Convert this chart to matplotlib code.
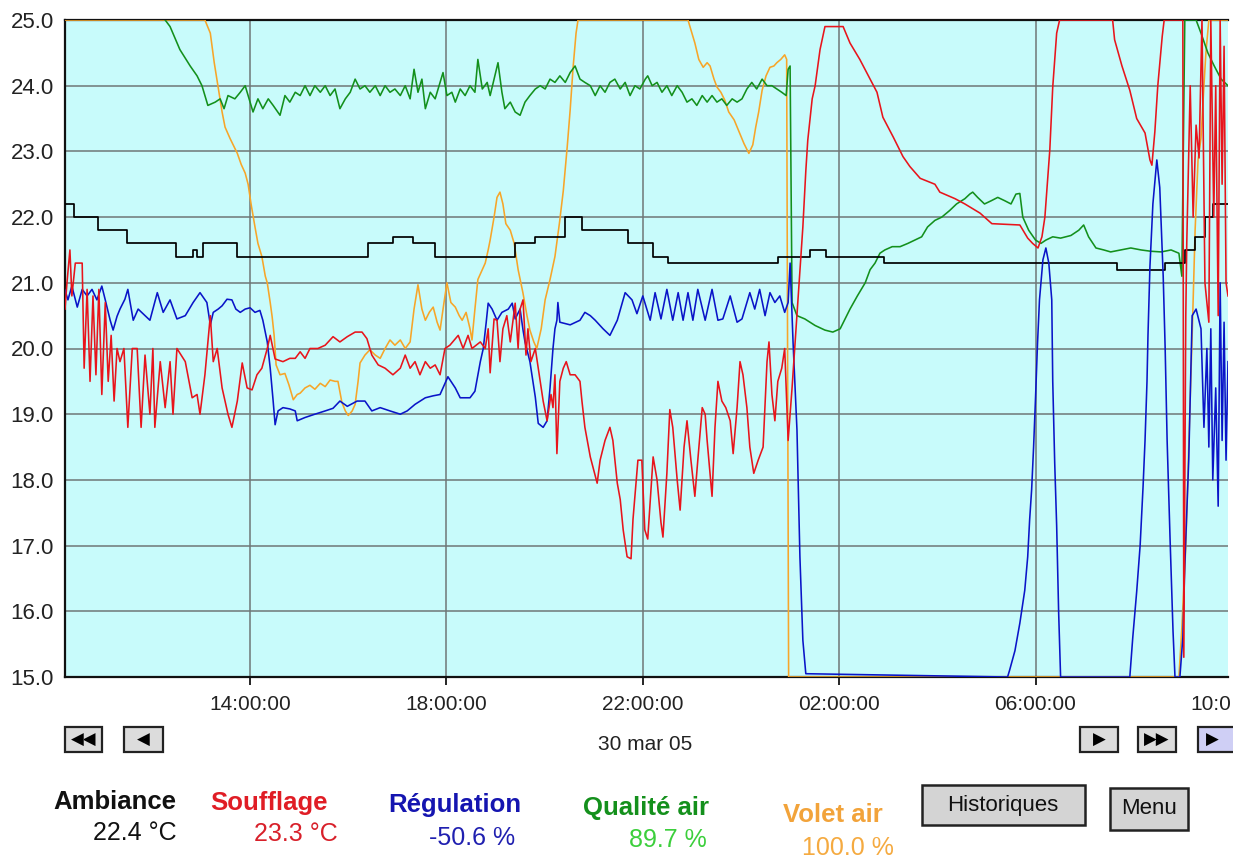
import matplotlib
matplotlib.use("Agg")
import matplotlib.pyplot as plt
from matplotlib.patches import Rectangle
from matplotlib.ticker import FixedLocator, FixedFormatter

plt.rcParams['font.family'] = ['Liberation Sans', 'DejaVu Sans']

# Time is in hours from 30 mar 05 00:00 (values above 24 are the next morning).
# Each series is a list of (hour, value).

ambiance = [
    (10.23, 22.2), (10.42, 22.0), (10.90, 21.8), (11.49, 21.6), (12.49, 21.4),
    (12.84, 21.5), (12.92, 21.4), (13.04, 21.6), (13.74, 21.4), (16.40, 21.6),
    (16.91, 21.7), (17.32, 21.6), (17.77, 21.4), (19.40, 21.6), (19.81, 21.7),
    (20.42, 22.0), (20.76, 21.8), (21.70, 21.6), (22.21, 21.4), (22.51, 21.3),
    (24.75, 21.4), (25.41, 21.5), (25.73, 21.4), (26.91, 21.3), (31.66, 21.2),
    (32.64, 21.3), (33.04, 21.5), (33.25, 21.7), (33.45, 22.0), (33.61, 22.2),
    (33.92, 22.2),
]

soufflage = [
    (10.23, 20.6), (10.27, 21.0), (10.33, 21.5), (10.37, 20.8), (10.44, 21.3),
    (10.58, 21.3), (10.62, 19.7), (10.68, 20.9), (10.74, 19.5), (10.80, 20.8),
    (10.86, 19.6), (10.92, 20.9), (10.98, 19.3), (11.05, 20.7), (11.11, 19.5),
    (11.17, 20.2), (11.23, 19.2), (11.29, 20.0), (11.35, 19.8), (11.43, 20.0),
    (11.51, 18.8), (11.60, 20.0), (11.70, 20.0), (11.78, 18.8), (11.86, 19.9),
    (11.96, 19.0), (12.02, 20.0), (12.06, 18.8), (12.17, 19.8), (12.27, 19.1),
    (12.37, 19.8), (12.43, 19.0), (12.51, 20.0), (12.68, 19.8), (12.82, 19.25),
    (12.92, 19.3), (12.98, 19.0), (13.08, 19.6), (13.19, 20.5), (13.25, 19.8),
    (13.33, 20.0), (13.43, 19.4), (13.55, 19.0), (13.63, 18.8), (13.74, 19.2),
    (13.84, 19.78), (13.94, 19.4), (14.04, 19.37), (14.14, 19.6), (14.24, 19.7),
    (14.35, 20.0), (14.41, 20.2), (14.51, 19.84), (14.67, 19.8), (14.81, 19.85),
    (14.92, 19.85), (15.02, 19.95), (15.12, 19.85), (15.22, 20.0), (15.38, 20.0),
    (15.53, 20.05), (15.69, 20.18), (15.83, 20.1), (15.98, 20.18), (16.14, 20.25),
    (16.28, 20.25), (16.38, 20.15), (16.48, 19.9), (16.61, 19.75), (16.75, 19.7),
    (16.91, 19.6), (17.06, 19.7), (17.16, 19.9), (17.26, 19.7), (17.36, 19.8),
    (17.46, 19.6), (17.57, 19.8), (17.67, 19.7), (17.77, 19.75), (17.87, 19.6),
    (17.97, 20.0), (18.07, 20.05), (18.24, 20.2), (18.34, 20.0), (18.44, 20.2),
    (18.52, 20.0), (18.69, 20.1), (18.79, 20.0), (18.85, 20.3), (18.89, 19.63),
    (18.97, 20.45), (19.03, 20.43), (19.09, 19.8), (19.15, 20.3), (19.23, 20.5),
    (19.30, 20.1), (19.40, 20.69), (19.46, 20.0), (19.50, 20.6), (19.56, 20.74),
    (19.62, 19.9), (19.66, 20.3), (19.72, 19.8), (19.81, 20.0), (19.89, 19.6),
    (19.97, 19.2), (20.05, 18.9), (20.13, 19.3), (20.17, 19.1), (20.21, 19.6),
    (20.25, 18.4), (20.31, 19.5), (20.38, 19.7), (20.44, 19.8), (20.52, 19.6),
    (20.62, 19.6), (20.72, 19.5), (20.76, 19.2), (20.82, 18.8), (20.93, 18.35),
    (21.07, 17.95), (21.13, 18.3), (21.23, 18.6), (21.33, 18.8), (21.39, 18.6),
    (21.48, 17.95), (21.54, 17.7), (21.60, 17.24), (21.68, 16.83), (21.76, 16.8),
    (21.80, 17.4), (21.90, 18.3), (21.98, 18.3), (22.04, 17.24), (22.10, 17.1),
    (22.21, 18.35), (22.29, 18.0), (22.37, 17.35), (22.41, 17.13), (22.49, 18.1),
    (22.55, 19.07), (22.61, 18.8), (22.70, 18.0), (22.76, 17.54), (22.84, 18.5),
    (22.90, 18.9), (22.98, 18.3), (23.06, 17.75), (23.12, 18.3), (23.21, 19.1),
    (23.27, 19.0), (23.31, 18.6), (23.41, 17.75), (23.47, 18.8), (23.53, 19.5),
    (23.61, 19.2), (23.69, 19.1), (23.78, 18.9), (23.84, 18.4), (23.92, 19.1),
    (23.98, 19.8), (24.04, 19.6), (24.12, 19.1), (24.18, 18.5), (24.26, 18.1),
    (24.35, 18.3), (24.45, 18.5), (24.53, 19.8), (24.57, 20.1), (24.63, 19.3),
    (24.69, 18.9), (24.75, 19.5), (24.83, 19.7), (24.89, 20.0), (24.96, 18.6),
    (25.04, 19.4), (25.12, 20.3), (25.20, 21.2), (25.26, 21.85), (25.32, 22.7),
    (25.36, 23.17), (25.45, 23.8), (25.51, 24.0), (25.61, 24.55), (25.71, 24.9),
    (26.08, 24.9), (26.22, 24.65), (26.42, 24.4), (26.63, 24.1), (26.77, 23.9),
    (26.89, 23.52), (27.10, 23.22), (27.30, 22.92), (27.44, 22.77), (27.65, 22.59),
    (27.95, 22.5), (28.05, 22.38), (28.36, 22.28), (28.56, 22.2), (28.87, 22.06),
    (29.11, 21.9), (29.68, 21.88), (29.84, 21.68), (29.94, 21.6), (30.05, 21.53),
    (30.13, 21.7), (30.19, 22.0), (30.29, 23.02), (30.35, 23.98), (30.43, 24.8),
    (30.49, 25.0), (31.57, 25.0), (31.61, 24.7), (31.76, 24.3), (31.92, 23.93),
    (32.06, 23.5), (32.23, 23.28), (32.33, 22.87), (32.37, 22.79), (32.43, 23.3),
    (32.49, 24.0), (32.58, 24.75), (32.62, 25.0), (33.00, 25.0), (33.02, 15.3),
    (33.06, 20.5), (33.08, 21.6), (33.15, 24.0), (33.21, 22.0), (33.27, 23.4),
    (33.33, 22.9), (33.39, 25.0), (33.45, 21.0), (33.53, 20.4), (33.57, 25.0),
    (33.63, 22.0), (33.67, 24.0), (33.72, 20.5), (33.76, 25.0), (33.80, 22.5),
    (33.84, 24.6), (33.88, 21.0), (33.92, 20.8),
]

regulation = [
    (10.23, 20.89), (10.29, 20.74), (10.37, 20.95), (10.48, 20.63), (10.58, 20.9),
    (10.68, 20.8), (10.78, 20.9), (10.88, 20.74), (10.98, 20.95), (11.05, 20.74),
    (11.15, 20.43), (11.21, 20.28), (11.29, 20.49), (11.35, 20.6), (11.45, 20.75),
    (11.51, 20.9), (11.62, 20.43), (11.72, 20.6), (11.82, 20.53), (11.96, 20.43),
    (12.11, 20.85), (12.23, 20.55), (12.37, 20.74), (12.51, 20.45), (12.68, 20.5),
    (12.84, 20.7), (12.98, 20.85), (13.12, 20.7), (13.19, 20.36), (13.25, 20.55),
    (13.35, 20.6), (13.43, 20.65), (13.53, 20.75), (13.63, 20.74), (13.71, 20.6),
    (13.80, 20.55), (13.90, 20.6), (14.00, 20.62), (14.10, 20.55), (14.20, 20.58),
    (14.26, 20.43), (14.35, 20.1), (14.41, 19.7), (14.47, 19.2), (14.51, 18.84),
    (14.57, 19.05), (14.67, 19.1), (14.81, 19.08), (14.92, 19.05), (14.96, 18.9),
    (15.12, 18.95), (15.32, 19.0), (15.53, 19.05), (15.69, 19.09), (15.83, 19.2),
    (15.98, 19.12), (16.18, 19.2), (16.34, 19.2), (16.48, 19.05), (16.65, 19.1),
    (16.85, 19.05), (17.06, 19.0), (17.20, 19.05), (17.36, 19.15), (17.57, 19.25),
    (17.73, 19.28), (17.87, 19.3), (17.97, 19.47), (18.03, 19.57), (18.18, 19.4),
    (18.28, 19.25), (18.48, 19.25), (18.58, 19.35), (18.69, 19.8), (18.75, 20.0),
    (18.81, 20.4), (18.85, 20.69), (18.93, 20.6), (19.03, 20.43), (19.13, 20.55),
    (19.26, 20.6), (19.34, 20.69), (19.40, 20.45), (19.50, 20.6), (19.56, 20.28),
    (19.60, 20.1), (19.70, 19.8), (19.81, 19.26), (19.87, 18.86), (19.97, 18.8),
    (20.05, 18.9), (20.11, 19.4), (20.17, 20.0), (20.21, 20.3), (20.25, 20.43),
    (20.27, 20.7), (20.31, 20.4), (20.52, 20.36), (20.72, 20.43), (20.82, 20.55),
    (20.93, 20.5), (21.03, 20.43), (21.19, 20.3), (21.33, 20.2), (21.48, 20.43),
    (21.64, 20.85), (21.78, 20.74), (21.88, 20.53), (22.00, 20.8), (22.15, 20.43),
    (22.25, 20.85), (22.37, 20.45), (22.49, 20.9), (22.61, 20.43), (22.72, 20.85),
    (22.82, 20.43), (22.92, 20.85), (23.02, 20.43), (23.12, 20.9), (23.27, 20.43),
    (23.41, 20.9), (23.53, 20.43), (23.63, 20.45), (23.78, 20.8), (23.92, 20.4),
    (24.02, 20.45), (24.18, 20.85), (24.28, 20.6), (24.38, 20.9), (24.49, 20.5),
    (24.59, 20.85), (24.69, 20.7), (24.79, 20.8), (24.89, 20.55), (24.96, 20.7),
    (25.00, 21.3), (25.06, 20.1), (25.14, 18.76), (25.20, 16.83), (25.26, 15.56),
    (25.32, 15.05), (29.43, 15.0), (29.47, 15.1), (29.58, 15.4), (29.68, 15.82),
    (29.78, 16.32), (29.84, 16.83), (29.88, 17.4), (29.92, 17.85), (29.96, 18.5),
    (30.00, 19.26), (30.04, 20.08), (30.08, 20.74), (30.15, 21.35), (30.21, 21.53),
    (30.27, 21.3), (30.33, 20.74), (30.35, 19.5), (30.39, 18.26), (30.43, 17.3),
    (30.47, 15.99), (30.51, 15.0), (31.92, 15.0), (31.98, 15.6), (32.06, 16.3),
    (32.13, 17.0), (32.19, 17.9), (32.23, 18.6), (32.27, 19.5), (32.29, 20.2),
    (32.33, 21.25), (32.39, 22.2), (32.47, 22.87), (32.53, 22.45), (32.60, 21.1),
    (32.64, 20.0), (32.68, 18.6), (32.74, 17.1), (32.80, 15.7), (32.84, 15.0),
    (32.94, 15.0), (33.00, 15.6), (33.04, 16.7), (33.12, 18.3), (33.19, 20.5),
    (33.27, 20.6), (33.37, 20.3), (33.43, 18.8), (33.49, 20.0), (33.53, 18.5),
    (33.57, 20.3), (33.61, 18.0), (33.67, 19.4), (33.72, 17.6), (33.76, 21.0),
    (33.80, 18.6), (33.84, 20.4), (33.88, 18.3), (33.92, 19.8),
]

qualite_air = [
    (12.27, 25.0), (12.37, 24.9), (12.57, 24.55), (12.78, 24.3), (12.92, 24.15),
    (13.02, 24.0), (13.14, 23.7), (13.29, 23.75), (13.39, 23.8), (13.47, 23.65),
    (13.55, 23.85), (13.69, 23.8), (13.80, 23.9), (13.90, 24.0), (14.00, 23.75),
    (14.06, 23.6), (14.16, 23.8), (14.26, 23.65), (14.37, 23.8), (14.47, 23.7),
    (14.61, 23.55), (14.71, 23.85), (14.81, 23.75), (14.92, 23.9), (15.02, 23.85),
    (15.12, 24.0), (15.22, 23.85), (15.32, 24.0), (15.43, 23.9), (15.53, 24.0),
    (15.63, 23.85), (15.73, 23.95), (15.83, 23.65), (15.94, 23.8), (16.04, 23.9),
    (16.14, 24.1), (16.24, 23.95), (16.34, 24.0), (16.44, 23.9), (16.55, 24.0),
    (16.65, 23.85), (16.75, 24.0), (16.85, 23.9), (16.95, 23.95), (17.06, 23.85),
    (17.16, 24.0), (17.26, 23.8), (17.34, 24.25), (17.42, 23.9), (17.50, 24.1),
    (17.57, 23.65), (17.67, 23.9), (17.77, 23.8), (17.87, 24.05), (17.93, 24.2),
    (18.01, 23.85), (18.11, 23.9), (18.18, 23.75), (18.28, 23.95), (18.38, 23.85),
    (18.48, 24.0), (18.58, 23.9), (18.64, 24.4), (18.73, 23.95), (18.83, 24.05),
    (18.89, 23.85), (18.97, 24.1), (19.05, 24.35), (19.13, 23.9), (19.19, 23.65),
    (19.30, 23.75), (19.40, 23.6), (19.50, 23.55), (19.60, 23.75), (19.70, 23.85),
    (19.81, 23.95), (19.91, 24.0), (20.01, 23.95), (20.11, 24.1), (20.21, 24.05),
    (20.31, 24.15), (20.42, 24.05), (20.52, 24.2), (20.62, 24.3), (20.72, 24.1),
    (20.82, 24.05), (20.93, 24.0), (21.03, 23.85), (21.13, 24.0), (21.23, 23.9),
    (21.33, 24.05), (21.43, 24.1), (21.54, 23.95), (21.64, 24.05), (21.74, 23.85),
    (21.84, 24.0), (21.94, 23.95), (22.05, 24.1), (22.10, 24.15), (22.19, 24.0),
    (22.29, 24.05), (22.39, 23.9), (22.49, 24.0), (22.59, 23.85), (22.70, 24.0),
    (22.80, 23.9), (22.90, 23.75), (23.00, 23.8), (23.10, 23.7), (23.21, 23.85),
    (23.31, 23.75), (23.41, 23.85), (23.51, 23.75), (23.61, 23.8), (23.71, 23.7),
    (23.82, 23.8), (23.92, 23.75), (24.02, 23.8), (24.12, 23.95), (24.22, 24.05),
    (24.32, 23.95), (24.43, 24.1), (24.53, 24.0), (24.63, 24.0), (24.73, 23.95),
    (24.83, 23.9), (24.92, 23.85), (24.96, 24.25), (25.00, 24.3), (25.04, 20.7),
    (25.14, 20.5), (25.30, 20.45), (25.51, 20.35), (25.71, 20.28), (25.87, 20.25),
    (26.02, 20.3), (26.12, 20.45), (26.22, 20.6), (26.37, 20.8), (26.53, 21.0),
    (26.63, 21.2), (26.73, 21.3), (26.83, 21.45), (26.93, 21.5), (27.08, 21.55),
    (27.24, 21.55), (27.40, 21.6), (27.54, 21.65), (27.68, 21.7), (27.80, 21.85),
    (27.95, 21.95), (28.09, 22.0), (28.25, 22.1), (28.39, 22.2), (28.56, 22.28),
    (28.66, 22.35), (28.72, 22.38), (28.82, 22.3), (28.96, 22.2), (29.10, 22.25),
    (29.23, 22.3), (29.37, 22.25), (29.50, 22.2), (29.60, 22.35), (29.68, 22.36),
    (29.74, 22.0), (29.86, 21.8), (30.00, 21.65), (30.11, 21.6), (30.21, 21.65),
    (30.35, 21.7), (30.51, 21.68), (30.72, 21.72), (30.88, 21.8), (30.98, 21.88),
    (31.08, 21.7), (31.23, 21.53), (31.39, 21.5), (31.53, 21.47), (31.74, 21.5),
    (31.94, 21.53), (32.15, 21.5), (32.35, 21.48), (32.56, 21.47), (32.76, 21.5),
    (32.92, 21.45), (32.98, 21.1), (33.04, 25.0), (33.27, 25.0), (33.37, 24.8),
    (33.51, 24.5), (33.64, 24.3), (33.78, 24.1), (33.92, 24.0),
]

volet_air = [
    (10.23, 25.0), (13.08, 25.0), (13.19, 24.8), (13.27, 24.35), (13.35, 23.98),
    (13.43, 23.6), (13.49, 23.37), (13.59, 23.2), (13.74, 22.97), (13.82, 22.8),
    (13.90, 22.67), (13.96, 22.5), (14.02, 22.2), (14.10, 21.85), (14.16, 21.6),
    (14.24, 21.4), (14.31, 21.1), (14.35, 21.0), (14.41, 20.7), (14.45, 20.48),
    (14.49, 20.2), (14.53, 19.75), (14.61, 19.6), (14.71, 19.62), (14.79, 19.45),
    (14.88, 19.22), (14.96, 19.3), (15.02, 19.32), (15.12, 19.4), (15.22, 19.44),
    (15.32, 19.38), (15.43, 19.47), (15.53, 19.42), (15.63, 19.52), (15.73, 19.5),
    (15.79, 19.5), (15.87, 19.18), (15.94, 19.05), (16.00, 18.98), (16.08, 19.05),
    (16.14, 19.15), (16.20, 19.5), (16.24, 19.78), (16.34, 19.9), (16.44, 19.98),
    (16.55, 19.9), (16.65, 19.85), (16.75, 20.0), (16.85, 20.13), (16.95, 20.05),
    (17.06, 20.13), (17.16, 20.0), (17.26, 20.1), (17.34, 20.6), (17.42, 20.97),
    (17.50, 20.6), (17.57, 20.43), (17.65, 20.55), (17.73, 20.63), (17.81, 20.4),
    (17.87, 20.28), (17.95, 20.7), (18.01, 21.0), (18.09, 20.7), (18.18, 20.63),
    (18.26, 20.5), (18.32, 20.43), (18.40, 20.55), (18.48, 20.3), (18.52, 20.13),
    (18.58, 20.6), (18.64, 21.05), (18.73, 21.2), (18.79, 21.3), (18.85, 21.5),
    (18.89, 21.65), (18.97, 22.0), (19.03, 22.3), (19.09, 22.38), (19.15, 22.2),
    (19.21, 21.9), (19.30, 21.8), (19.38, 21.6), (19.46, 21.2), (19.56, 20.84),
    (19.64, 20.5), (19.70, 20.28), (19.78, 20.1), (19.84, 20.0), (19.93, 20.3),
    (20.01, 20.74), (20.11, 21.05), (20.21, 21.4), (20.30, 21.9), (20.38, 22.4),
    (20.46, 23.07), (20.52, 23.63), (20.58, 24.28), (20.64, 24.8), (20.68, 25.0),
    (22.92, 25.0), (23.00, 24.8), (23.06, 24.65), (23.14, 24.4), (23.23, 24.28),
    (23.31, 24.35), (23.37, 24.3), (23.45, 24.1), (23.51, 23.98), (23.59, 23.9),
    (23.67, 23.78), (23.75, 23.6), (23.86, 23.48), (23.96, 23.3), (24.06, 23.12),
    (24.16, 22.97), (24.24, 23.1), (24.30, 23.37), (24.36, 23.6), (24.43, 23.93),
    (24.51, 24.15), (24.59, 24.28), (24.67, 24.3), (24.73, 24.35), (24.81, 24.4),
    (24.89, 24.47), (24.93, 24.4), (24.97, 15.0), (32.92, 15.0), (32.98, 15.75),
    (33.06, 16.98), (33.12, 18.5), (33.19, 20.2), (33.25, 21.8), (33.31, 22.87),
    (33.37, 23.2), (33.43, 24.0), (33.47, 24.5), (33.53, 25.0), (33.92, 25.0),
]

y_ticks = [15, 16, 17, 18, 19, 20, 21, 22, 23, 24, 25]
tick_hours = [14, 18, 22, 26, 30]
tick_labels = ['14:00:00', '18:00:00', '22:00:00', '02:00:00', '06:00:00']
edge_label = '10:0'  # the 10:00:00 label is cut by the window border
date_label = '30 mar 05'

names = ['Ambiance', 'Soufflage', 'Régulation', 'Qualité air', 'Volet air']
current_values = ['22.4 °C', '23.3 °C', '-50.6 %', '89.7 %', '100.0 %']

line_colors = {'ambiance': '#000000', 'soufflage': '#e8141b', 'regulation': '#0a14c8',
               'qualite': '#13901c', 'volet': '#f7a528'}


def fx(px):
    return px / 1233.0


def fy(py):
    return 1.0 - py / 858.0


fig = plt.figure(figsize=(12.33, 8.58), dpi=100)
ax = fig.add_axes([fx(65), fy(677), fx(1228) - fx(65), fy(20) - fy(677)])
ax.set_facecolor('#c8fbfb')

t, v = zip(*volet_air)
ax.plot(t, v, color=line_colors['volet'], lw=1.15, zorder=3)
t, v = zip(*qualite_air)
ax.plot(t, v, color=line_colors['qualite'], lw=1.15, zorder=3)
t, v = zip(*ambiance)
ax.plot(t, v, color=line_colors['ambiance'], lw=1.25, drawstyle='steps-post', zorder=3)
t, v = zip(*regulation)
ax.plot(t, v, color=line_colors['regulation'], lw=1.15, zorder=3)
t, v = zip(*soufflage)
ax.plot(t, v, color=line_colors['soufflage'], lw=1.15, zorder=3)

ax.set_xlim(10.23, 33.92)
ax.set_ylim(15, 25)
ax.yaxis.set_major_locator(FixedLocator(y_ticks))
ax.yaxis.set_major_formatter(FixedFormatter(['%.1f' % y for y in y_ticks]))
ax.xaxis.set_major_locator(FixedLocator(tick_hours))
ax.xaxis.set_major_formatter(FixedFormatter(tick_labels))
ax.grid(True, color='#6e7676', lw=1.1, zorder=1)
ax.set_axisbelow(True)

ax.tick_params(axis='y', length=0, pad=8, labelsize=16, labelcolor='#222222')
ax.tick_params(axis='x', direction='out', length=6, width=1.2, pad=7,
               labelsize=15, labelcolor='#222222')
for side in ['left', 'bottom', 'top']:
    ax.spines[side].set_linewidth(1.6)
    ax.spines[side].set_color('#111111')
ax.spines['right'].set_visible(False)

fig.text(fx(1231), fy(705), edge_label, ha='right', va='center', fontsize=15, color='#222222')

fig.text(fx(645), fy(745), date_label, ha='center', va='center', fontsize=15, color='#222222')

# navigation buttons
nav = [(65, 102, '◀◀', '#dcdcdc'), (124, 163, '◀', '#dcdcdc'),
       (1080, 1118, '▶', '#dcdcdc'), (1138, 1176, '▶▶', '#dcdcdc'),
       (1198, 1240, '▶', '#cfcff5')]
for x0, x1, glyph, fc in nav:
    fig.add_artist(Rectangle((fx(x0), fy(752)), fx(x1) - fx(x0), fy(727) - fy(752),
                             transform=fig.transFigure, fc=fc, ec='#222222', lw=1.6))
    cx = (x0 + x1) / 2 if x1 <= 1233 else x0 + 14
    fig.text(fx(cx), fy(740), glyph, ha='center', va='center',
             fontsize=12, color='black', family='DejaVu Sans')

# buttons
fig.add_artist(Rectangle((fx(922), fy(825)), fx(1085) - fx(922), fy(785) - fy(825),
                         transform=fig.transFigure, fc='#d4d4d4', ec='#222222', lw=1.8))
fig.text(fx(1003), fy(805), 'Historiques', ha='center', va='center', fontsize=16, color='#111111')
fig.add_artist(Rectangle((fx(1110), fy(830)), fx(1188) - fx(1110), fy(788) - fy(830),
                         transform=fig.transFigure, fc='#d4d4d4', ec='#222222', lw=1.8))
fig.text(fx(1149), fy(809), 'Menu', ha='center', va='center', fontsize=16, color='#111111')

# current readings under the chart
name_colors = ['#111111', '#e01d25', '#1515b0', '#14901c', '#f2a33a']
value_colors = ['#111111', '#d8202a', '#2020b0', '#3ccf3c', '#f5aa40']
name_pos = [(115, 802), (269, 803), (455, 805), (646, 808), (833, 815)]
value_pos = [(135, 833), (296, 834), (472, 838), (668, 840), (848, 848)]
for i in range(len(names)):
    fig.text(fx(name_pos[i][0]), fy(name_pos[i][1]), names[i], ha='center', va='center',
             fontsize=18.5, fontweight='bold', color=name_colors[i])
    fig.text(fx(value_pos[i][0]), fy(value_pos[i][1]), current_values[i], ha='center',
             va='center', fontsize=18, color=value_colors[i])

fig.savefig('out.png', dpi=100)
